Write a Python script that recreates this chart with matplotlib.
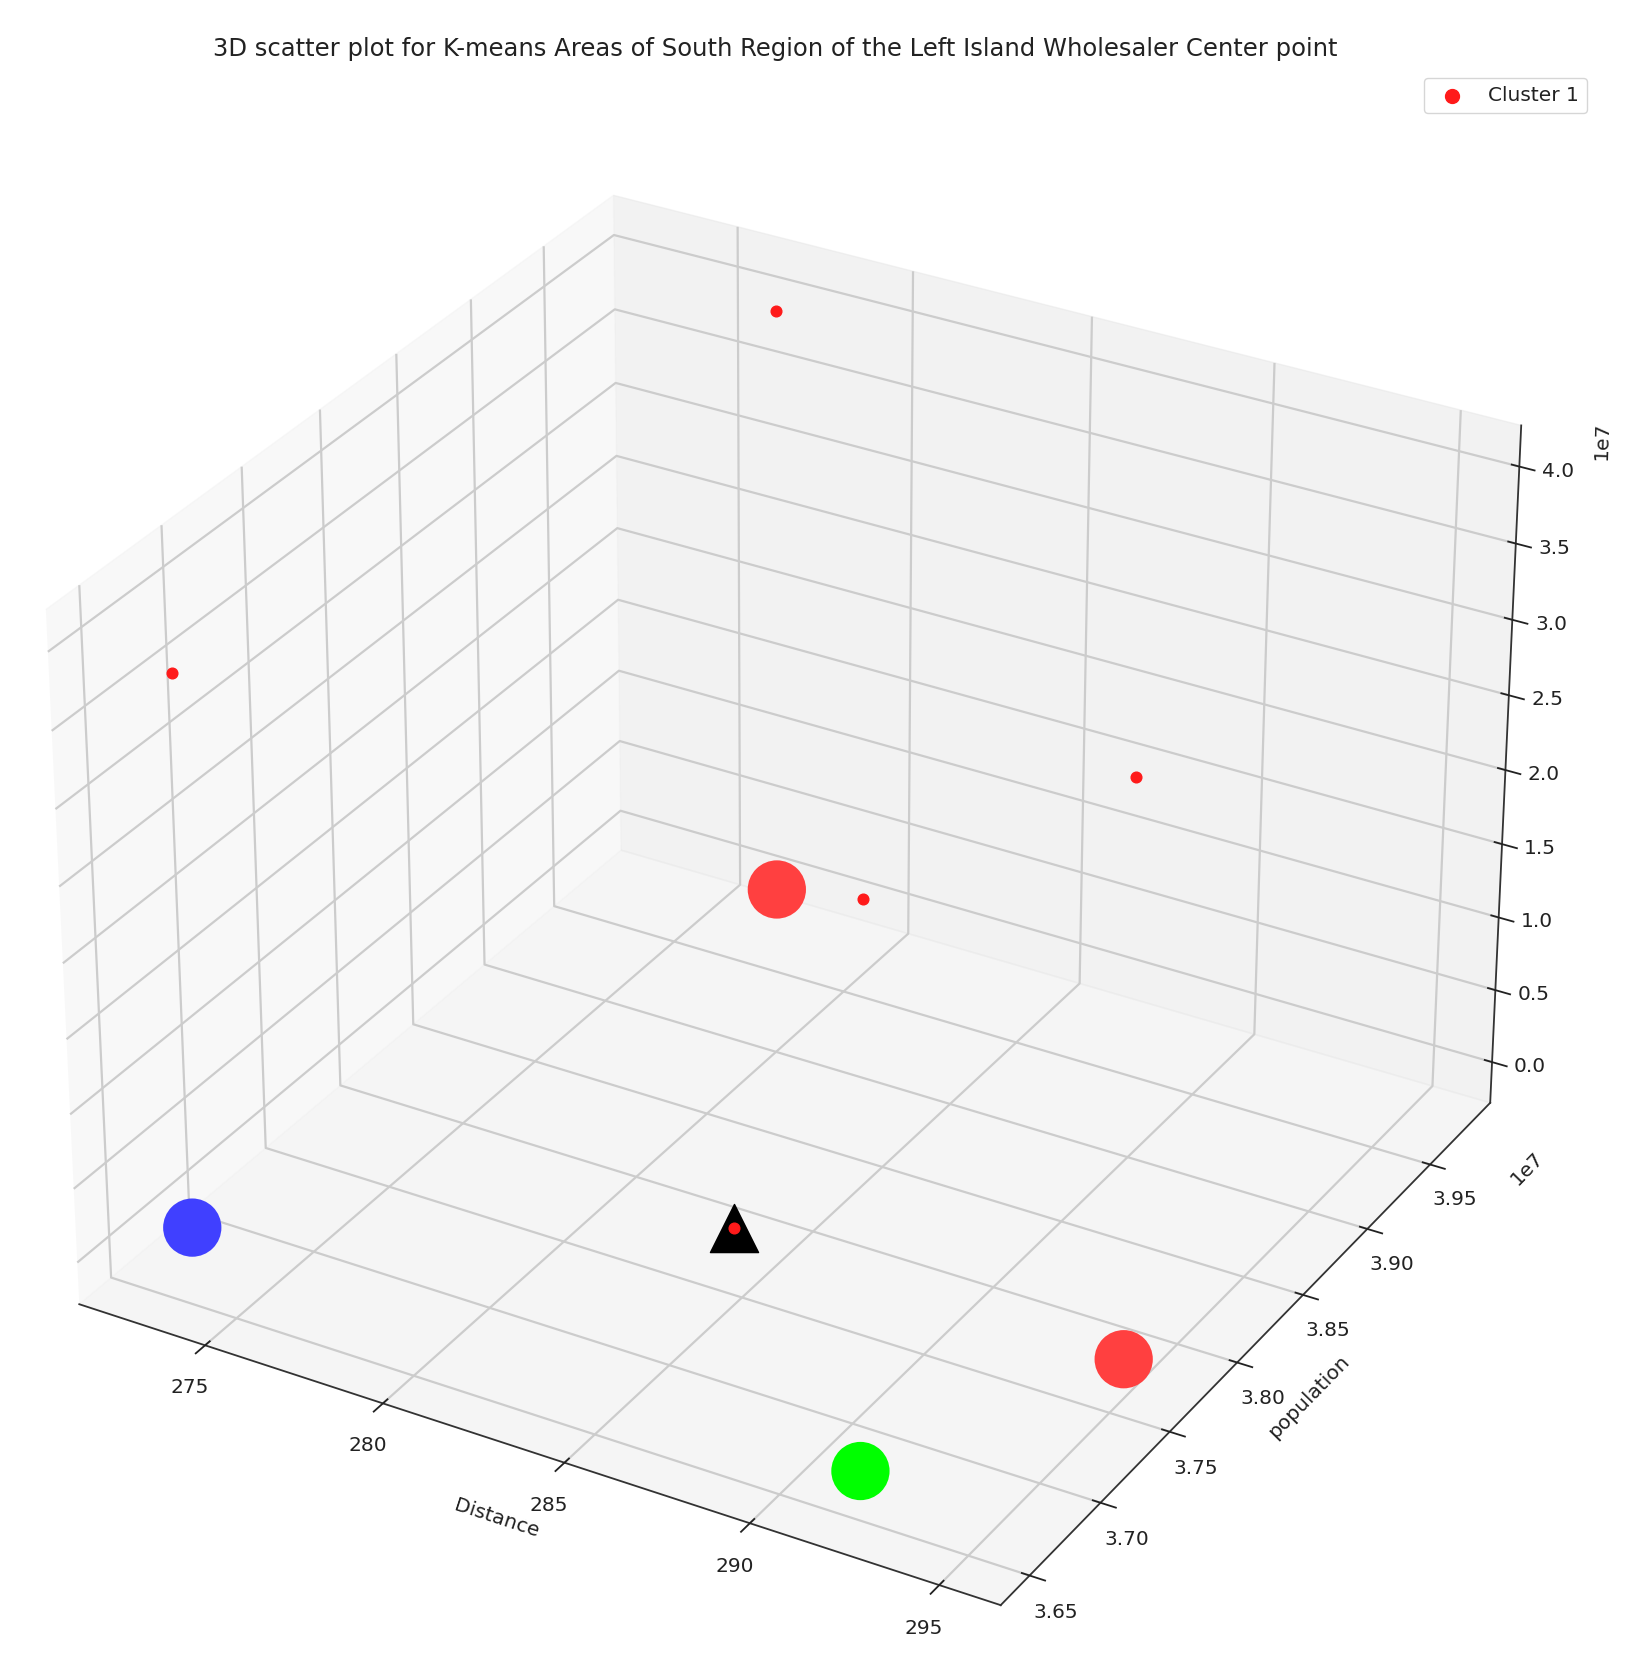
import matplotlib
matplotlib.use('Agg')
import matplotlib.pyplot as plt

# cluster 1 points
dist = [273.33, 277.32, 288.70, 282.70, 284.21]
pop = [3.6617e7, 3.9683e7, 3.9366e7, 3.8943e7, 3.7645e7]
people = [3.748e7, 4.058e7, 1.918e7, 1.018e7, 0.0]

# k-means centers
center_dist = [272.92, 292.01, 295.04, 276.97]
center_pop = [3.6692e7, 3.6536e7, 3.7586e7, 3.9771e7]
center_z = [0.0, 0.0, 0.0, 0.0]
center_cols = ['#4040ff', '#00ff00', '#ff4040', '#ff4040']

# wholesaler center
tri_dist = [284.21]
tri_pop = [3.7645e7]
tri_z = [0.0]

plt.rcParams['font.size'] = 14.5
plt.rcParams['grid.linewidth'] = 1.6
plt.rcParams['grid.color'] = '#cccccc'
plt.rcParams['axes.linewidth'] = 1.3
plt.rcParams['axes.edgecolor'] = '#333333'
plt.rcParams['xtick.major.width'] = 1.3
plt.rcParams['ytick.major.width'] = 1.3
plt.rcParams['xtick.color'] = '#222222'
plt.rcParams['ytick.color'] = '#222222'
plt.rcParams['text.color'] = '#222222'
plt.rcParams['axes.labelcolor'] = '#222222'
plt.rcParams['xtick.major.pad'] = 9
plt.rcParams['ytick.major.pad'] = 9
plt.rcParams['axes.labelpad'] = 14

fig = plt.figure(figsize=(16.38, 16.67), dpi=100)
ax = fig.add_subplot(111, projection='3d')
ax.set_position([-0.04, -0.025, 1.027, 0.984])

ax.scatter(center_dist, center_pop, center_z, s=1760, c=center_cols, depthshade=False, linewidths=0)
ax.scatter(tri_dist, tri_pop, tri_z, s=1200, c='black', marker='^', depthshade=False)
ax.scatter(dist, pop, people, s=59, c='#ff1a1a', depthshade=False, label='Cluster 1')

ax.set_xlim(271.4, 296.6)
ax.set_ylim(3.63e7, 3.999e7)
ax.set_zlim(-0.285e7, 4.265e7)
ax.set_xlabel('Distance')
ax.set_ylabel('population')
ax.zaxis.offsetText.set_visible(False)
fig.text(0.978, 0.7353, '1e7', rotation=88, ha='center', va='center', fontsize=14.5)
fig.text(0.473, 0.9707, '3D scatter plot for K-means Areas of South Region of the Left Island Wholesaler Center point',
         ha='center', va='center', fontsize=17.45)
ax.legend(loc='upper right', bbox_to_anchor=(0.969, 0.953), bbox_transform=fig.transFigure,
          borderaxespad=0, markerscale=1.3)

fig.savefig('out.png', dpi=100)
